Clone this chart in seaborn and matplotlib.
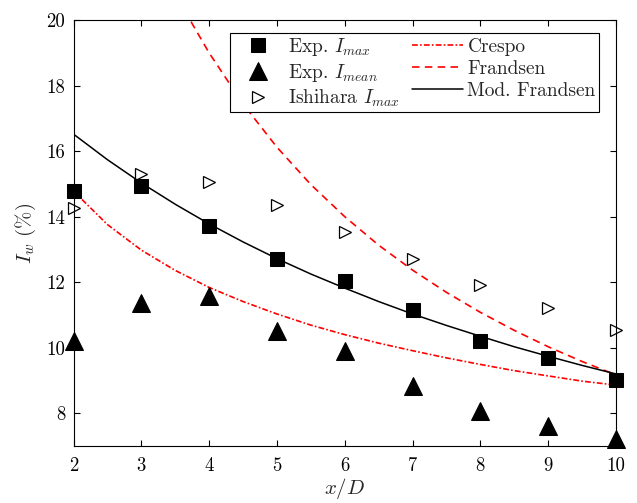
import matplotlib
matplotlib.use("Agg")
import matplotlib.pyplot as plt
import seaborn as sns
import numpy as np
import pandas as pd

# ---- data ----
x_exp = [2, 3, 4, 5, 6, 7, 8, 9, 10]
exp_imax = [14.77, 14.95, 13.71, 12.72, 12.03, 11.16, 10.21, 9.69, 9.03]
exp_imean = [10.2, 11.36, 11.58, 10.52, 9.89, 8.83, 8.06, 7.61, 7.2]
ishihara_imax = [14.27, 15.3, 15.06, 14.37, 13.54, 12.7, 11.91, 11.2, 10.54]

x_crespo = [2, 2.5, 3, 3.5, 4, 4.5, 5, 5.5, 6, 6.5, 7, 7.5, 8, 8.5, 9, 9.5, 10]
crespo = [14.78, 13.76, 12.98, 12.36, 11.84, 11.41, 11.03, 10.69, 10.40,
          10.14, 9.91, 9.69, 9.49, 9.30, 9.14, 8.98, 8.86]

x_frandsen = [3.5, 3.75, 4, 4.5, 5, 5.5, 6, 6.5, 7, 7.5, 8, 8.5, 9, 9.5, 10]
frandsen = [20.87, 19.89, 19.0, 17.44, 16.12, 14.98, 14.0, 13.13, 12.37,
            11.69, 11.08, 10.53, 10.03, 9.58, 9.17]

x_mod = [2, 2.5, 3, 3.5, 4, 4.5, 5, 5.5, 6, 6.5, 7, 7.5, 8, 8.5, 9, 9.5, 10]
mod_frandsen = [16.52, 15.74, 15.03, 14.38, 13.78, 13.23, 12.72, 12.25, 11.82,
                11.41, 11.03, 10.68, 10.35, 10.03, 9.74, 9.46, 9.2]

x_ticks = [2, 3, 4, 5, 6, 7, 8, 9, 10]
y_ticks = [8, 10, 12, 14, 16, 18, 20]

# ---- style ----
sns.set_style("ticks")
plt.rcParams["font.family"] = ["serif"]
plt.rcParams["font.serif"] = ["cmr10", "DejaVu Serif"]
plt.rcParams["mathtext.fontset"] = "cm"
plt.rcParams["axes.formatter.use_mathtext"] = True
plt.rcParams["axes.unicode_minus"] = False

fs_tick = 13.5
fs_leg = 14
fs_lab = 15
fig = plt.figure(figsize=(6.37, 5.03), dpi=100)
ax = fig.add_axes([0.1154, 0.1133, 0.8516, 0.8467])

sns.lineplot(x=x_exp, y=exp_imax, ax=ax, marker="s", linestyle="", markersize=9.5,
             color="black", markeredgecolor="black", label=r"Exp. $I_{max}$",
             clip_on=False, zorder=5)
sns.lineplot(x=x_exp, y=exp_imean, ax=ax, marker="^", linestyle="", markersize=12.5,
             color="black", markeredgecolor="black", label=r"Exp. $I_{mean}$",
             clip_on=False, zorder=5)
sns.lineplot(x=x_exp, y=ishihara_imax, ax=ax, marker=">", linestyle="", markersize=9,
             color="black", markerfacecolor="none", markeredgecolor="black",
             markeredgewidth=0.9, label=r"Ishihara $I_{max}$", clip_on=False, zorder=5)
sns.lineplot(x=x_crespo, y=crespo, ax=ax, color="red", linewidth=1.2,
             label="Crespo")
sns.lineplot(x=x_frandsen, y=frandsen, ax=ax, color="red", linewidth=1.2,
             label="Frandsen")
sns.lineplot(x=x_mod, y=mod_frandsen, ax=ax, color="black", linewidth=1.1,
             label="Mod. Frandsen")

lines = ax.get_lines()
lines[3].set_linestyle((0, (3.5, 1.3, 1.0, 1.3)))
lines[4].set_linestyle((0, (4.5, 3.2)))

ax.set_xlim(2, 10)
ax.set_ylim(7, 20)
ax.set_xticks(x_ticks)
ax.set_yticks(y_ticks)
ax.set_xticklabels([str(v) for v in x_ticks])
ax.set_yticklabels([str(v) for v in y_ticks])
ax.tick_params(direction="in", length=4.5, width=0.8, top=True, right=True,
               labelsize=fs_tick, colors="black")
ax.tick_params(axis="x", pad=8)
ax.tick_params(axis="y", pad=6)
for sp in ax.spines.values():
    sp.set_visible(True)
    sp.set_linewidth(0.8)
    sp.set_color("black")

ax.set_xlabel(r"$x/D$", fontsize=fs_lab, labelpad=1)
ax.set_ylabel(r"$I_w$ (%)", fontsize=fs_lab, labelpad=6)

ax.legend(ncol=2, loc="upper left", bbox_to_anchor=(0.2885, 0.9695),
          fontsize=fs_leg, frameon=True, fancybox=False, edgecolor="black",
          framealpha=1, handlelength=2.6, handletextpad=0.25,
          columnspacing=0.6, labelspacing=0.2, borderpad=0.15,
          borderaxespad=0)
ax.get_legend().get_frame().set_linewidth(0.8)

fig.savefig("out.png", dpi=100)
